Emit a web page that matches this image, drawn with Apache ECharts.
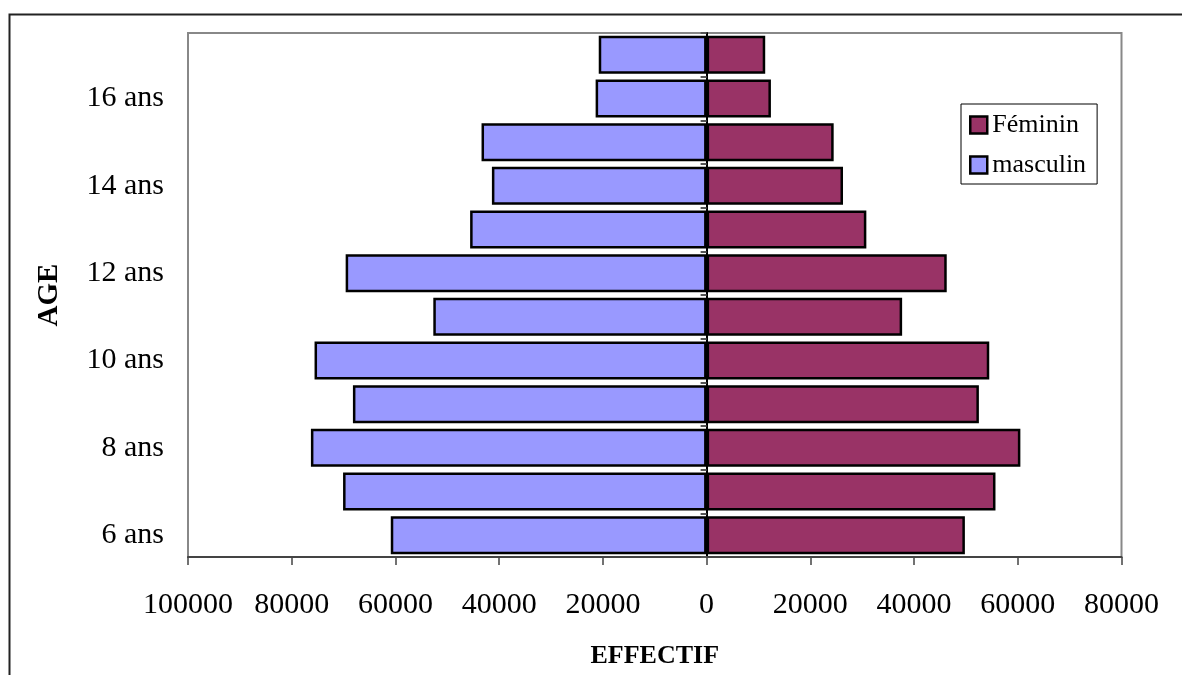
<!DOCTYPE html>
<html>
<head>
<meta charset="utf-8">
<script src="https://cdn.jsdelivr.net/npm/echarts@6/dist/echarts.min.js"></script>
<style>
html,body{margin:0;padding:0;background:#fff;}
#chart{width:1182px;height:675px;}
</style>
</head>
<body>
<div id="chart"></div>
<script>
var ages = ['6 ans','7 ans','8 ans','9 ans','10 ans','11 ans','12 ans','13 ans','14 ans','15 ans','16 ans','17 ans'];
var masculin = [60900, 70100, 76300, 68200, 75600, 52700, 69600, 45600, 41400, 43400, 21400, 20800];
var feminin  = [49800, 55700, 60500, 52500, 54500, 37700, 46300, 30800, 26300, 24500, 12400, 11300];
var xTicks = {min: -100000, max: 80000, interval: 20000};

var FONT = 'Liberation Serif';
var chart = echarts.init(document.getElementById('chart'), null, {renderer: 'canvas'});
chart.setOption({
  animation: false,
  backgroundColor: '#fff',
  textStyle: {fontFamily: FONT, color: '#000'},
  graphic: [{
    type: 'rect', left: 7, top: 12, z: -10, silent: true,
    shape: {width: 1200, height: 700},
    style: {fill: 'none', stroke: '#222', lineWidth: 2}
  }],
  grid: {
    left: 188, top: 33, right: 60.5, bottom: 118,
    show: true, borderColor: '#888', borderWidth: 2, backgroundColor: '#fff',
    containLabel: false, outerBoundsMode: 'none'
  },
  legend: {
    orient: 'vertical', left: 961, top: 104,
    data: ['Féminin', 'masculin'],
    backgroundColor: '#fff', borderColor: '#000', borderWidth: 1,
    padding: [8, 11, 6, 8],
    itemWidth: 17, itemHeight: 17, itemGap: 14,
    icon: 'rect',
    itemStyle: {borderColor: '#000', borderWidth: 2.5},
    textStyle: {fontFamily: FONT, fontSize: 26, color: '#000', padding: [0, 0, 0, 0]}
  },
  xAxis: {
    type: 'value', min: xTicks.min, max: xTicks.max, interval: xTicks.interval,
    name: 'EFFECTIF', nameLocation: 'middle', nameGap: 86,
    nameTextStyle: {fontFamily: FONT, fontSize: 26, fontWeight: 'bold', color: '#000'},
    axisLine: {show: true, onZero: false, lineStyle: {color: '#444', width: 2}},
    axisTick: {show: true, length: 8, lineStyle: {color: '#444', width: 1.5}},
    axisLabel: {margin: 33, fontFamily: FONT, fontSize: 30, color: '#000',
      formatter: function (v) { return String(Math.abs(v)); }},
    splitLine: {show: false}
  },
  yAxis: [{
    type: 'category', data: ages, position: 'left',
    name: 'AGE', nameLocation: 'middle', nameGap: 124, nameRotate: 90,
    nameTextStyle: {fontFamily: FONT, fontSize: 29, fontWeight: 'bold', color: '#000'},
    axisLine: {show: false, onZero: false},
    axisTick: {show: false},
    axisLabel: {interval: 1, margin: 24, fontFamily: FONT, fontSize: 30, color: '#000'},
    splitLine: {show: false}
  }, {
    type: 'category', data: ages, position: 'right',
    axisLine: {show: true, onZero: true, lineStyle: {color: '#000', width: 2}},
    axisTick: {show: true, inside: true, length: 6, lineStyle: {color: '#555', width: 2}},
    axisLabel: {show: false},
    splitLine: {show: false}
  }],
  series: [{
    name: 'Féminin', type: 'bar', yAxisIndex: 0,
    data: feminin,
    barGap: '-100%', barCategoryGap: '13%',
    itemStyle: {color: '#993366', borderColor: '#000', borderWidth: 2.5},
    emphasis: {disabled: true}
  }, {
    name: 'masculin', type: 'bar', yAxisIndex: 0,
    data: masculin.map(function (v) { return -v; }),
    barGap: '-100%', barCategoryGap: '13%',
    itemStyle: {color: '#9999FF', borderColor: '#000', borderWidth: 2.5},
    emphasis: {disabled: true}
  }]
});
</script>
</body>
</html>
